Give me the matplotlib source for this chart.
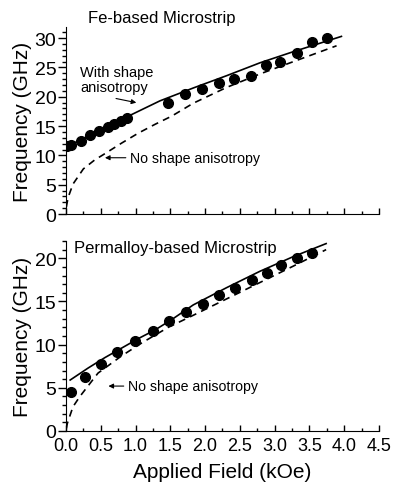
import numpy as np
import matplotlib
matplotlib.use('Agg')
import matplotlib.pyplot as plt
from matplotlib.ticker import MultipleLocator

plt.rcParams['font.family'] = ['Liberation Sans', 'DejaVu Sans']

# Fe-based microstrip: measured points
fe_h = [0.02, 0.07, 0.21, 0.34, 0.47, 0.60, 0.69, 0.79, 0.88, 1.47, 1.71,
        1.96, 2.20, 2.42, 2.66, 2.88, 3.07, 3.32, 3.53, 3.75]
fe_f = [11.6, 11.8, 12.5, 13.5, 14.1, 14.8, 15.3, 15.9, 16.4, 19.0, 20.4,
        21.3, 22.4, 23.0, 23.5, 25.4, 26.0, 27.4, 29.4, 30.1]
# curves
fe_solid_h = [0.0, 0.25, 0.5, 0.88, 1.35, 1.83, 2.31, 2.79, 3.27, 3.96]
fe_solid_f = [11.4, 12.9, 14.3, 16.6, 19.3, 21.5, 23.6, 25.8, 27.7, 30.3]
fe_dash_h = [0.005, 0.03, 0.1, 0.25, 0.41, 0.56, 0.8, 1.04, 1.28, 1.52, 1.83,
             2.31, 2.79, 3.27, 3.89]
fe_dash_f = [1.2, 2.8, 5.1, 7.7, 9.2, 10.3, 12.1, 13.8, 15.3, 16.7, 18.9,
             21.6, 23.9, 26.0, 28.7]

# Permalloy-based microstrip
py_h = [0.07, 0.28, 0.51, 0.74, 0.99, 1.25, 1.48, 1.72, 1.97, 2.20, 2.43,
        2.67, 2.89, 3.09, 3.32, 3.53]
py_f = [4.5, 6.3, 7.8, 9.2, 10.4, 11.6, 12.7, 13.8, 14.7, 15.7, 16.6,
        17.5, 18.3, 19.2, 20.0, 20.6]
py_solid_h = [0.06, 0.32, 0.56, 0.80, 1.04, 1.28, 1.52, 1.83, 2.31, 2.79, 3.27, 3.74]
py_solid_f = [5.9, 7.3, 8.5, 9.6, 10.7, 11.7, 12.9, 14.6, 16.6, 18.5, 20.2, 21.7]
py_dash_h = [0.005, 0.02, 0.1, 0.2, 0.46, 0.8, 1.09, 1.47, 1.83, 2.31, 2.79, 3.27, 3.74]
py_dash_f = [0.3, 0.9, 2.8, 4.0, 6.7, 8.7, 10.2, 12.0, 13.4, 15.3, 17.2, 19.1, 21.0]

fig = plt.figure(figsize=(3.94, 4.89), dpi=100)
ax1 = fig.add_axes([0.1675, 0.5603, 0.7944, 0.3824])
ax2 = fig.add_axes([0.1675, 0.1166, 0.7944, 0.3885])

dash = (0, (4.2, 3.2))
for ax in (ax1, ax2):
    ax.spines['top'].set_visible(False)
    ax.spines['right'].set_visible(False)
    ax.set_xlim(0, 4.5)
    ax.xaxis.set_major_locator(MultipleLocator(0.5))
    ax.xaxis.set_minor_locator(MultipleLocator(0.25))
    ax.tick_params(axis='x', which='major', direction='in', length=4, width=1)
    ax.tick_params(axis='x', which='minor', direction='in', length=2, width=1)
    ax.tick_params(axis='y', which='major', direction='out', length=6, width=1,
                   labelsize=14, pad=1)
    ax.tick_params(axis='y', which='minor', direction='out', length=3, width=1)
    ax.yaxis.set_major_locator(MultipleLocator(5))
    ax.yaxis.set_minor_locator(MultipleLocator(1))
    ax.set_ylabel('Frequency (GHz)', fontsize=15, labelpad=2)

# top panel
ax1.plot(fe_solid_h, fe_solid_f, color='black', lw=1.2)
ax1.plot(fe_dash_h, fe_dash_f, color='black', lw=1.2, linestyle=dash)
ax1.plot(fe_h, fe_f, 'o', color='black', markersize=7)
ax1.set_ylim(0, 31.9)
ax1.tick_params(axis='x', labelbottom=False)
ax1.text(0.32, 33.6, 'Fe-based Microstrip', fontsize=12, va='center', clip_on=False)
ax1.text(0.2, 23.0, 'With shape\nanisotropy', fontsize=10.5, va='center', linespacing=1.1)
ax1.annotate('', xy=(1.05, 18.9), xytext=(0.68, 19.8),
             arrowprops=dict(arrowstyle='-|>', color='black', lw=0.8,
                             mutation_scale=7))
ax1.annotate('No shape anisotropy', xy=(0.56, 9.6), xytext=(0.92, 9.6),
             fontsize=10.2, va='center',
             arrowprops=dict(arrowstyle='-|>', color='black', lw=0.8,
                             mutation_scale=7, shrinkA=1, shrinkB=0))

# bottom panel
ax2.plot(py_solid_h, py_solid_f, color='black', lw=1.2)
ax2.plot(py_dash_h, py_dash_f, color='black', lw=1.2, linestyle=dash)
ax2.plot(py_h, py_f, 'o', color='black', markersize=7)
ax2.set_ylim(0, 22.0)
ax2.tick_params(axis='x', labelsize=13, pad=4)
ax2.set_xlabel('Applied Field (kOe)', fontsize=15, labelpad=6)
ax2.text(0.11, 21.2, 'Permalloy-based Microstrip', fontsize=12, va='center')
ax2.annotate('No shape anisotropy', xy=(0.61, 5.2), xytext=(0.89, 5.2),
             fontsize=10.2, va='center',
             arrowprops=dict(arrowstyle='-|>', color='black', lw=0.8,
                             mutation_scale=7, shrinkA=1, shrinkB=0))

plt.savefig('out.png', dpi=100)
